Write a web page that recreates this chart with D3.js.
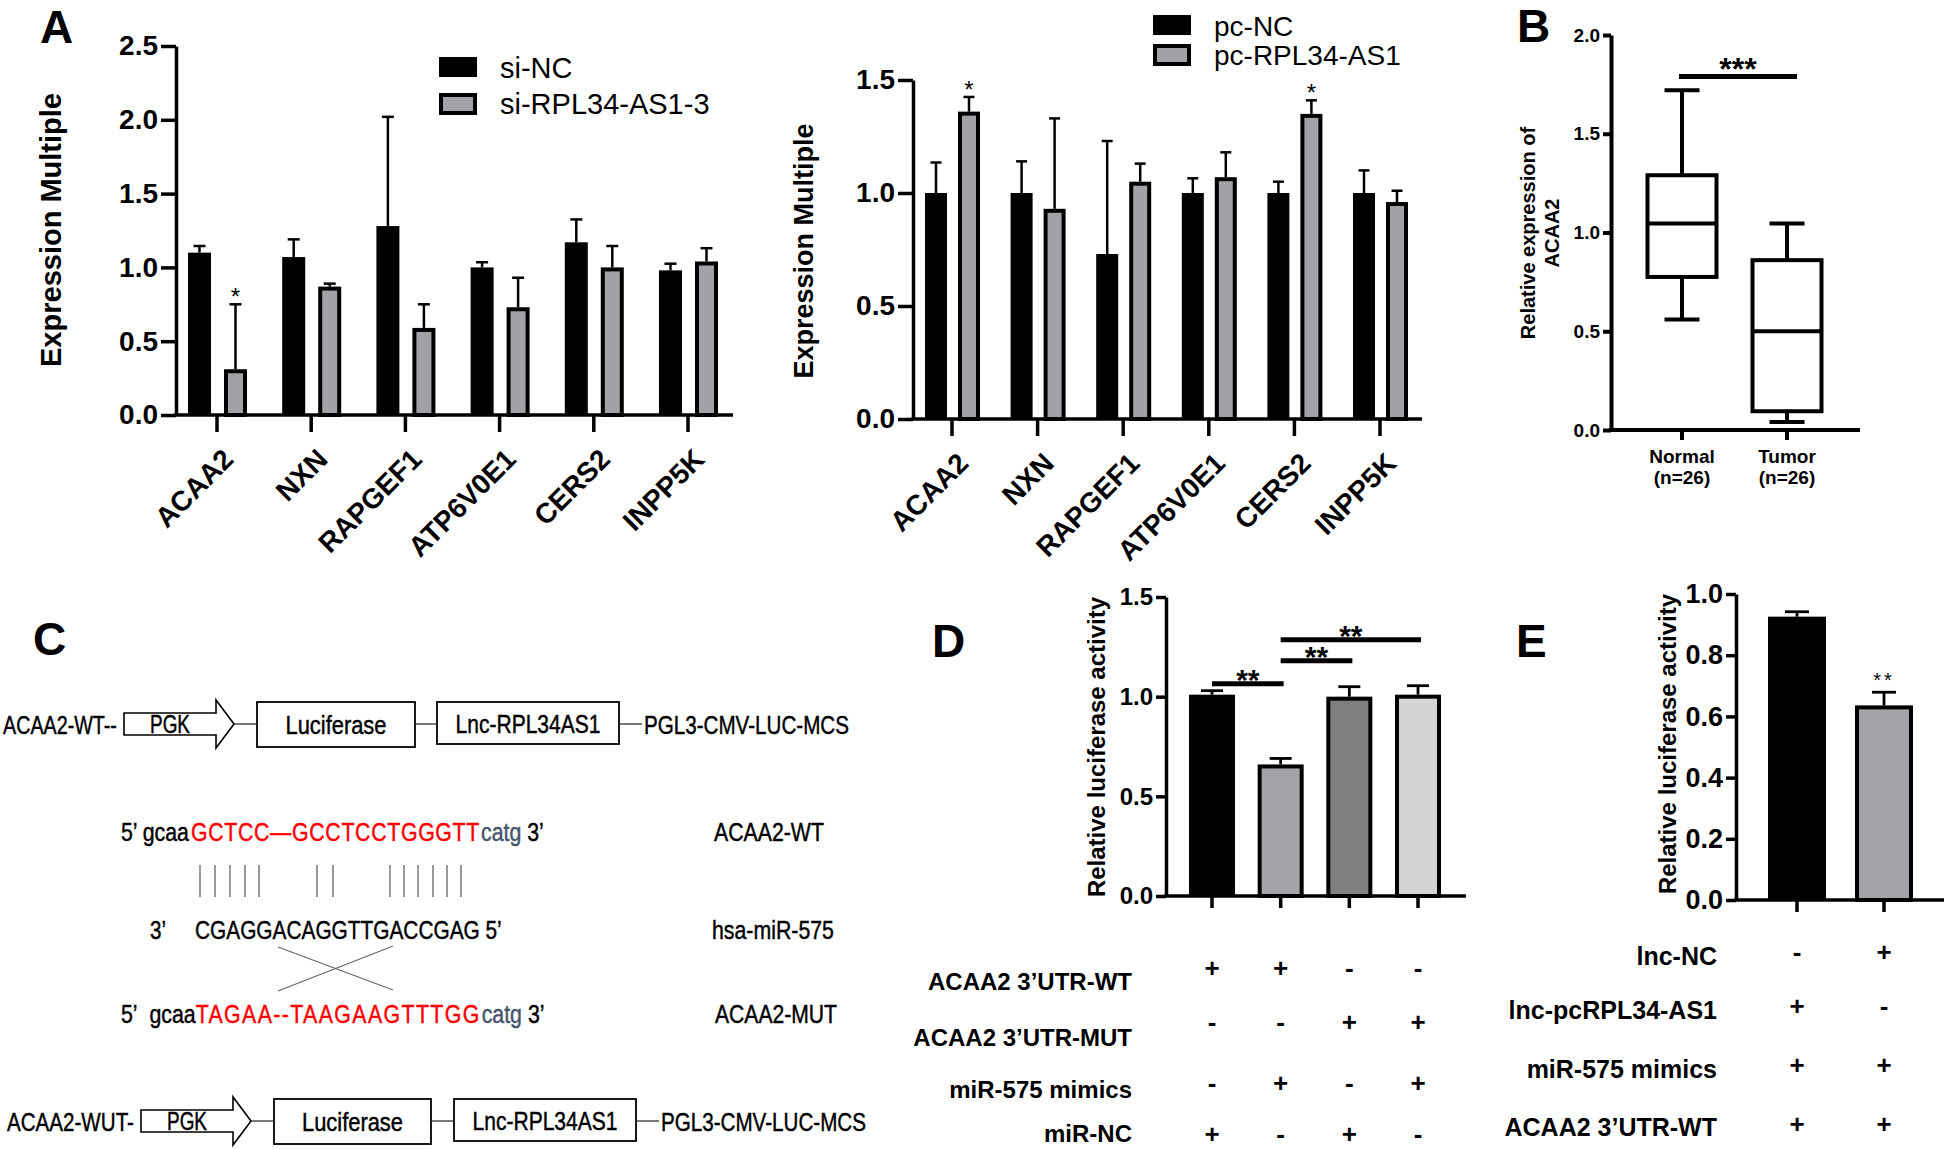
<!DOCTYPE html>
<html><head><meta charset="utf-8">
<script src="https://cdn.jsdelivr.net/npm/d3@7"></script>
<style>
html,body{margin:0;padding:0;background:#fff;}
svg{display:block;}
</style></head><body>
<svg id="fig" width="1944" height="1149"></svg>
<script>
// ---------------- DATA ----------------
const genes = ["ACAA2","NXN","RAPGEF1","ATP6V0E1","CERS2","INPP5K"];
const siNC     = [1.10, 1.07, 1.28, 1.00, 1.17, 0.98];
const siNCErr  = [0.045,0.12, 0.74, 0.035,0.155,0.045];
const siRPL    = [0.31, 0.87, 0.59, 0.73, 1.00, 1.04];
const siRPLErr = [0.44, 0.02, 0.16, 0.20, 0.145,0.09];
const siStars  = ["*","","","","",""];
const siLegend = ["si-NC","si-RPL34-AS1-3"];
const siTicks  = [0,0.5,1.0,1.5,2.0,2.5];

const pcNC     = [1.00, 1.00, 0.73, 1.00, 1.00, 1.00];
const pcNCErr  = [0.135,0.14, 0.50, 0.065,0.05, 0.10];
const pcRPL    = [1.36, 0.93, 1.05, 1.07, 1.35, 0.96];
const pcRPLErr = [0.065,0.40, 0.08, 0.11, 0.06, 0.05];
const pcStars  = ["*","","","","*",""];
const pcLegend = ["pc-NC","pc-RPL34-AS1"];
const pcTicks  = [0,0.5,1.0,1.5];
const yTitleA  = "Expression Multiple";

const boxGroups = ["Normal","Tumor"];
const boxN      = ["(n=26)","(n=26)"];
const boxMin    = [0.56, 0.04];
const boxQ1     = [0.775,0.095];
const boxMedian = [1.045,0.50];
const boxQ3     = [1.29, 0.86];
const boxMax    = [1.72, 1.045];
const boxTicks  = [0,0.5,1.0,1.5,2.0];
const boxSigValue = 1.79, boxSigLabel = "***";
const boxTitle  = ["Relative expression of","ACAA2"];

const dGroups = ["WT+NC","WT+mimics","MUT+NC","MUT+mimics"];
const dValues = [1.01,0.66,1.00,1.01];
const dErr    = [0.02,0.03,0.05,0.045];
const dFills  = ["#000000","#a4a4a8","#808080","#d4d4d4"];
const dRowLabels = ["ACAA2 3\u2019UTR-WT","ACAA2 3\u2019UTR-MUT","miR-575 mimics","miR-NC"];
const dSigns = [["+","+","-","-"],["-","-","+","+"],["-","+","-","+"],["+","-","+","-"]];
const dSigFrom = [0,1,1], dSigTo = [1,2,3], dSigLevel = [1.065,1.18,1.285], dSigLabel = ["**","**","**"];
const dTicks = [0,0.5,1.0,1.5];
const lucTitle = "Relative luciferase activity";

const eGroups = ["pcRPL34-AS1","NC"];
const eValues = [0.926,0.636];
const eErr    = [0.016,0.043];
const eFills  = ["#000000","#a4a4a8"];
const eStars  = ["","**"];
const eRowLabels = ["lnc-NC","lnc-pcRPL34-AS1","miR-575 mimics","ACAA2 3\u2019UTR-WT"];
const eSigns = [["-","+"],["+","-"],["+","+"],["+","+"]];
const eTicks = [0,0.2,0.4,0.6,0.8,1.0];

const constructNames   = ["ACAA2-WT--","ACAA2-WUT-"];
const constructParts   = ["PGK","Luciferase","Lnc-RPL34AS1"];
const constructVector  = "PGL3-CMV-LUC-MCS";
const seqWT  = ["5\u2019 gcaa","GCTCC\u2014GCCTCCTGGGTT","catg","3\u2019"];
const seqMiR = ["3\u2019","CGAGGACAGGTTGACCGAG 5\u2019"];
const seqMUT = ["5\u2019\u00a0\u00a0gcaa","TAGAA--TAAGAAGTTTGG","catg","3\u2019"];
const seqNames = ["ACAA2-WT","hsa-miR-575","ACAA2-MUT"];

// ---------------- DRAWING ----------------
const FONT = '"Liberation Sans", Arial, Helvetica, sans-serif';
const svg = d3.select("#fig").attr("font-family", FONT);
const fmt = d3.format(".1f");

function txt(g, s, x, y, o = {}) {
  const t = g.append("text").attr("x", x).attr("y", y).text(s)
    .attr("font-size", o.fs || 20).attr("font-weight", o.bold ? "bold" : "normal")
    .attr("fill", o.fill || "#000").attr("text-anchor", o.anchor || "start")
    .attr("font-family", FONT);
  if (o.db) t.attr("dominant-baseline", o.db);
  if (o.ls) t.attr("letter-spacing", o.ls);
  return t;
}
// narrow text: regular font squeezed horizontally to a target width
function ntxt(g, s, x, y, o = {}) {
  const col = o.fill || "#000";
  const t = g.append("text").attr("x", 0).attr("y", 0).text(s)
    .attr("font-size", o.fs || 26).attr("font-family", FONT)
    .attr("fill", col).attr("stroke", col).attr("stroke-width", 0.45)
    .attr("text-anchor", o.anchor || "start");
  const w = t.node().getComputedTextLength();
  const sx = o.len ? o.len / w : 0.82;
  t.attr("transform", `translate(${x},${y}) scale(${sx},1)`);
  return t;
}
function letter(s, x, y) { txt(svg, s, x, y, {fs: 46, bold: true}); }

function yAxis(g, y, x, ticks, o) {
  const ax = d3.axisLeft(y).tickValues(ticks).tickFormat(fmt)
    .tickSize(o.tickLen).tickPadding(o.pad).tickSizeOuter(0);
  const a = g.append("g").attr("transform", `translate(${x},0)`).call(ax);
  a.attr("font-family", FONT);
  a.select("path.domain").attr("stroke", "#000").attr("stroke-width", o.sw);
  a.selectAll(".tick line").attr("stroke", "#000").attr("stroke-width", o.sw);
  a.selectAll(".tick text").attr("fill", "#000").attr("font-size", o.fs).attr("font-weight", "bold");
  return a;
}
function xBase(g, x0, x1, y0, centers, tickLen, sw) {
  g.append("line").attr("x1", x0 - sw/2).attr("x2", x1).attr("y1", y0).attr("y2", y0)
    .attr("stroke", "#000").attr("stroke-width", sw);
  centers.forEach(c => g.append("line").attr("x1", c).attr("x2", c).attr("y1", y0)
    .attr("y2", y0 + tickLen).attr("stroke", "#000").attr("stroke-width", sw));
}
function bar(g, left, w, yTop, y0, fill, sw) {
  if (fill === "#000000") {
    g.append("rect").attr("x", left).attr("y", yTop).attr("width", w).attr("height", y0 - yTop).attr("fill", "#000");
  } else {
    g.append("rect").attr("x", left + sw/2).attr("y", yTop + sw/2).attr("width", w - sw)
      .attr("height", Math.max(0, y0 - yTop - sw/2)).attr("fill", fill).attr("stroke", "#000").attr("stroke-width", sw);
  }
}
function errBar(g, cx, yv, ye, cap, sw) {
  g.append("line").attr("x1", cx).attr("x2", cx).attr("y1", yv).attr("y2", ye).attr("stroke", "#000").attr("stroke-width", sw);
  g.append("line").attr("x1", cx - cap/2).attr("x2", cx + cap/2).attr("y1", ye).attr("y2", ye).attr("stroke", "#000").attr("stroke-width", sw);
}
function yTitle(g, s, x, y, fs) {
  txt(g, s, 0, 0, {fs, bold: true, anchor: "middle"}).attr("transform", `translate(${x},${y}) rotate(-90)`);
}

// ---------- Panel A ----------
function groupedPanel(cfg) {
  const g = svg.append("g");
  const y = d3.scaleLinear().domain([0, cfg.yMax]).range([cfg.y0, cfg.yTop]);
  const x = d3.scalePoint().domain(genes).range(cfg.xr);
  cfg.series.forEach(s => {
    s.values.forEach((v, i) => {
      const c = x(genes[i]);
      const left = c + s.off;
      bar(g, left, cfg.bw, y(v), cfg.y0, s.fill, 4);
      errBar(g, left + cfg.bw/2, y(v), y(v + s.err[i]), cfg.cap, 2.5);
      if (s.stars && s.stars[i]) txt(g, s.stars[i], left + cfg.bw/2, y(v + s.err[i]) + 1, {fs: 24, anchor: "middle"});
    });
  });
  xBase(g, cfg.x0, cfg.x1, cfg.y0, genes.map(d => x(d)), 17, 3.5);
  yAxis(g, y, cfg.x0, cfg.ticks, {tickLen: 15, pad: 3, sw: 3.5, fs: 28});
  genes.forEach(d => {
    txt(g, d, 0, 0, {fs: 28, bold: true, anchor: "end"})
      .attr("transform", `translate(${x(d) + 18},${cfg.y0 + 46}) rotate(-45)`);
  });
  yTitle(g, yTitleA, cfg.titleX, cfg.titleY, cfg.titleFs);
  // legend
  cfg.series.forEach((s, k) => {
    const ly = cfg.legY[k];
    bar(g, cfg.legX, 38, ly - 20, ly, s.fill, 4);
    txt(g, cfg.legend[k], cfg.legX + 61, ly + 1, {fs: cfg.legFs});
  });
}
groupedPanel({
  x0: 176, x1: 733, y0: 415, yTop: 46, yMax: 2.5, xr: [217, 688], bw: 23, cap: 12,
  ticks: siTicks, titleX: 61, titleY: 230, titleFs: 29,
  legend: siLegend, legX: 439, legY: [77, 113], legFs: 29,
  series: [
    {values: siNC, err: siNCErr, fill: "#000000", off: -29},
    {values: siRPL, err: siRPLErr, fill: "#a2a2a6", off: 7, stars: siStars}
  ]
});
groupedPanel({
  x0: 913, x1: 1422, y0: 419, yTop: 80, yMax: 1.5, xr: [952, 1380], bw: 22, cap: 11,
  ticks: pcTicks, titleX: 813, titleY: 251, titleFs: 27,
  legend: pcLegend, legX: 1153, legY: [35, 64], legFs: 28,
  series: [
    {values: pcNC, err: pcNCErr, fill: "#000000", off: -27},
    {values: pcRPL, err: pcRPLErr, fill: "#a2a2a6", off: 6, stars: pcStars}
  ]
});
letter("A", 40, 43);

// ---------- Panel B ----------
(function () {
  const g = svg.append("g");
  const y0 = 430;
  const y = d3.scaleLinear().domain([0, 2]).range([y0, 35]);
  const x = d3.scalePoint().domain(boxGroups).range([1682, 1787]);
  const bw = 69, cap = 35, sw = 4;
  boxGroups.forEach((d, i) => {
    const c = x(d);
    g.append("line").attr("x1", c).attr("x2", c).attr("y1", y(boxMax[i])).attr("y2", y(boxQ3[i])).attr("stroke", "#000").attr("stroke-width", sw);
    g.append("line").attr("x1", c).attr("x2", c).attr("y1", y(boxQ1[i])).attr("y2", y(boxMin[i])).attr("stroke", "#000").attr("stroke-width", sw);
    [boxMax[i], boxMin[i]].forEach(v => g.append("line").attr("x1", c - cap/2).attr("x2", c + cap/2)
      .attr("y1", y(v)).attr("y2", y(v)).attr("stroke", "#000").attr("stroke-width", sw));
    g.append("rect").attr("x", c - bw/2).attr("y", y(boxQ3[i])).attr("width", bw).attr("height", y(boxQ1[i]) - y(boxQ3[i]))
      .attr("fill", "none").attr("stroke", "#000").attr("stroke-width", sw);
    g.append("line").attr("x1", c - bw/2).attr("x2", c + bw/2).attr("y1", y(boxMedian[i])).attr("y2", y(boxMedian[i])).attr("stroke", "#000").attr("stroke-width", sw);
    txt(g, d, c, 463, {fs: 19, bold: true, anchor: "middle"});
    txt(g, boxN[i], c, 484, {fs: 19, bold: true, anchor: "middle"});
  });
  xBase(g, 1611, 1860, y0, boxGroups.map(d => x(d)), 10, 4);
  yAxis(g, y, 1611, boxTicks, {tickLen: 8, pad: 3, sw: 4, fs: 19});
  g.append("line").attr("x1", 1679).attr("x2", 1797).attr("y1", y(boxSigValue)).attr("y2", y(boxSigValue)).attr("stroke", "#000").attr("stroke-width", 5);
  txt(g, boxSigLabel, 1738, y(boxSigValue) + 4, {fs: 32, bold: true, anchor: "middle"});
  yTitle(g, boxTitle[0], 1535, 233, 20);
  yTitle(g, boxTitle[1], 1559, 233, 20);
})();
letter("B", 1517, 42);

// ---------- Panel C ----------
(function () {
  const g = svg.append("g");
  const FS = 26;
  function construct(k, cy, x) {
    // x: [nameStart,nameLen, arrowL, arrowBodyR, arrowTip, lucL, lucR, lncL, lncR, vecStart]
    ntxt(g, constructNames[k], x[0], cy + 10, {fs: FS, len: x[1]});
    const bh = 11, hh = 24;
    g.append("path").attr("d", `M${x[2]},${cy - bh}H${x[3]}V${cy - hh}L${x[4]},${cy}L${x[3]},${cy + hh}V${cy + bh}H${x[2]}Z`)
      .attr("fill", "#fff").attr("stroke", "#000").attr("stroke-width", 1.6);
    ntxt(g, constructParts[0], (x[2] + x[3]) / 2, cy + 9, {fs: 25, anchor: "middle", len: 40});
    g.append("rect").attr("x", x[5]).attr("y", cy - 22).attr("width", x[6] - x[5]).attr("height", 45).attr("fill", "#fff").attr("stroke", "#000").attr("stroke-width", 1.8);
    ntxt(g, constructParts[1], (x[5] + x[6]) / 2, cy + 10, {fs: FS, anchor: "middle", len: 101});
    g.append("rect").attr("x", x[7]).attr("y", cy - 22).attr("width", x[8] - x[7]).attr("height", 42).attr("fill", "#fff").attr("stroke", "#000").attr("stroke-width", 1.8);
    ntxt(g, constructParts[2], (x[7] + x[8]) / 2, cy + 9, {fs: FS, anchor: "middle", len: 145});
    [[x[4], x[5]], [x[6], x[7]], [x[8], x[9] - 2]].forEach(p =>
      g.append("line").attr("x1", p[0]).attr("x2", p[1]).attr("y1", cy).attr("y2", cy).attr("stroke", "#333").attr("stroke-width", 1.3));
    ntxt(g, constructVector, x[9], cy + 10, {fs: FS, len: 205});
  }
  construct(0, 724, [3, 114, 124, 216, 234, 257, 415, 437, 619, 644]);
  construct(1, 1121, [7, 127, 141, 233, 251, 274, 431, 454, 636, 661]);

  const red = "#ff0000", slate = "#44546a";
  const cols = ["#000", red, slate, "#000"];
  // one text per row, squeezed horizontally; the red core is spaced to fill its span
  function seqRow(seq, y, x0, redStart, redEnd) {
    const s = 0.82;
    const t = g.append("text").attr("font-size", FS).attr("font-family", FONT).attr("stroke-width", 0.45)
      .attr("transform", `translate(${x0},${y}) scale(${s},1)`);
    const sp = seq.map((str, i) => t.append("tspan").attr("fill", cols[i]).attr("stroke", cols[i]).text(str));
    const w = sp.map(n => n.node().getComputedTextLength());
    sp[1].attr("dx", Math.max(0, (redStart - x0) / s - w[0]));
    sp[1].attr("letter-spacing", Math.max(0, ((redEnd - redStart) / s - w[1]) / seq[1].length));
    sp[2].attr("letter-spacing", 0).attr("dx", 1 / s);
    sp[3].attr("dx", 6 / s);
  }
  seqRow(seqWT, 841, 121, 191, 480);
  seqRow(seqMUT, 1023, 121, 195, 480);
  ntxt(g, seqMiR[0], 150, 939, {fs: FS, len: 16});
  ntxt(g, seqMiR[1], 195, 939, {fs: FS, len: 307});
  ntxt(g, seqNames[0], 714, 841, {fs: FS, len: 110});
  ntxt(g, seqNames[1], 712, 939, {fs: FS, len: 122});
  ntxt(g, seqNames[2], 715, 1023, {fs: FS, len: 122});
  [200, 215, 230, 245, 259, 317, 333, 390, 404, 418, 433, 447, 461].forEach(px =>
    g.append("line").attr("x1", px).attr("x2", px).attr("y1", 865).attr("y2", 897).attr("stroke", "#555").attr("stroke-width", 1.2));
  g.append("line").attr("x1", 278).attr("y1", 947).attr("x2", 393).attr("y2", 990).attr("stroke", "#666").attr("stroke-width", 1.2);
  g.append("line").attr("x1", 278).attr("y1", 991).attr("x2", 393).attr("y2", 946).attr("stroke", "#666").attr("stroke-width", 1.2);
})();
letter("C", 33, 655);

// ---------- Panel D / E (luciferase) ----------
function lucPanel(cfg) {
  const g = svg.append("g");
  const y = d3.scaleLinear().domain([0, cfg.yMax]).range([cfg.y0, cfg.yTop]);
  const x = d3.scalePoint().domain(cfg.groups).range(cfg.xr);
  cfg.values.forEach((v, i) => {
    const c = x(cfg.groups[i]);
    bar(g, c - cfg.bw/2, cfg.bw, y(v), cfg.y0, cfg.fills[i], 4);
    errBar(g, c, y(v), y(v + cfg.err[i]), cfg.cap, 2.8);
    if (cfg.stars && cfg.stars[i]) txt(g, cfg.stars[i], c, y(v + cfg.err[i]) - 5, {fs: 20, anchor: "middle", ls: 3});
  });
  xBase(g, cfg.x0, cfg.x1, cfg.y0, cfg.groups.map(d => x(d)), 12, 3.5);
  yAxis(g, y, cfg.x0, cfg.ticks, {tickLen: 10, pad: 3, sw: 3.5, fs: cfg.tickFs});
  yTitle(g, lucTitle, cfg.titleX, cfg.titleY, 24);
  if (cfg.sigFrom) cfg.sigFrom.forEach((f, k) => {
    const a = x(cfg.groups[f]), b = x(cfg.groups[cfg.sigTo[k]]) + 3, yy = y(cfg.sigLevel[k]);
    g.append("line").attr("x1", a).attr("x2", b).attr("y1", yy).attr("y2", yy).attr("stroke", "#000").attr("stroke-width", 5);
    txt(g, cfg.sigLabel[k], (a + b) / 2, yy + 6, {fs: 30, bold: true, anchor: "middle"});
  });
  cfg.rowLabels.forEach((r, k) => {
    txt(g, r, cfg.labelX, cfg.labelY[k], {fs: cfg.labelFs, bold: true, anchor: "end"});
    cfg.signs[k].forEach((s, i) => txt(g, s, x(cfg.groups[i]), cfg.signY[k], {fs: 26, bold: true, anchor: "middle", db: "central"}));
  });
}
lucPanel({
  groups: dGroups, values: dValues, err: dErr, fills: dFills,
  x0: 1166, x1: 1466, y0: 896, yTop: 597, yMax: 1.5, xr: [1212, 1418], bw: 46, cap: 22,
  ticks: dTicks, tickFs: 24, titleX: 1105, titleY: 747,
  sigFrom: dSigFrom, sigTo: dSigTo, sigLevel: dSigLevel, sigLabel: dSigLabel,
  rowLabels: dRowLabels, signs: dSigns, labelX: 1132, labelFs: 24,
  labelY: [990, 1046, 1098, 1142], signY: [968, 1022, 1083, 1134]
});
letter("D", 932, 657);
lucPanel({
  groups: eGroups, values: eValues, err: eErr, fills: eFills, stars: eStars,
  x0: 1736, x1: 1944, y0: 900, yTop: 594, yMax: 1.0, xr: [1797, 1884], bw: 58, cap: 24,
  ticks: eTicks, tickFs: 27, titleX: 1676, titleY: 744,
  rowLabels: eRowLabels, signs: eSigns, labelX: 1717, labelFs: 25,
  labelY: [965, 1019, 1078, 1136], signY: [952, 1006, 1065, 1124]
});
letter("E", 1516, 657);
</script>
</body></html>
